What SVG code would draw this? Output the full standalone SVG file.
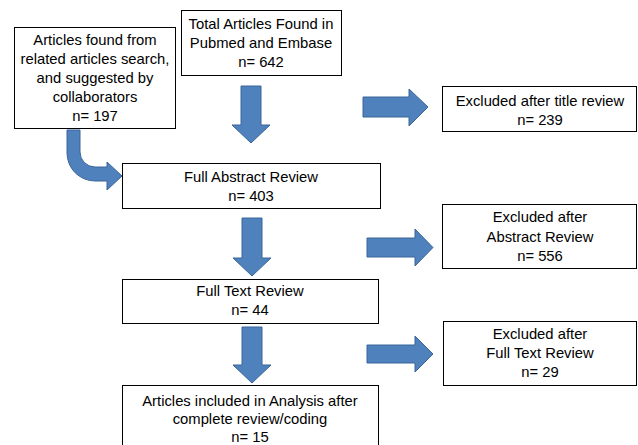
<svg xmlns="http://www.w3.org/2000/svg" width="638" height="445" viewBox="0 0 638 445">
<style>
.box{fill:#ffffff;stroke:#000000;stroke-width:1}
.arr{fill:#4F81BD;stroke:#3A6598;stroke-width:1}
text{font-family:"Liberation Sans",Arial,sans-serif;font-size:14.8px;fill:#000;text-anchor:middle}
</style>
<rect width="638" height="445" fill="#ffffff"/>
<g id="connectors">
<path class="arr" d="M67,130 L80,130 L80,152 A15,15 0 0 0 95,167 L107,167 L107,162 L122,176 L107,190 L107,181 L95,181 A28,28 0 0 1 67,153 Z"/>
<path class="arr" d="M241,86 L261,86 L261,125 L270,125 L251,143 L232,125 L241,125 Z"/>
<path class="arr" d="M242,218 L262,218 L262,258 L271,258 L252,276 L233,258 L242,258 Z"/>
<path class="arr" d="M242,327 L262,327 L262,365 L271,365 L252,383 L233,365 L242,365 Z"/>
<path class="arr" d="M363,97 L409,97 L409,89 L428,107 L409,126 L409,117 L363,117 Z"/>
<path class="arr" d="M367,238 L415,238 L415,229 L433,247.5 L415,266 L415,257 L367,257 Z"/>
<path class="arr" d="M367,345 L415,345 L415,336 L433,354 L415,372 L415,363 L367,363 Z"/>
</g>
<g id="node-related">
<rect class="box" x="14.5" y="27.5" width="161" height="101"/>
<text x="95" y="45">Articles found from</text>
<text x="95" y="64">related articles search,</text>
<text x="95" y="83">and suggested by</text>
<text x="95" y="102">collaborators</text>
<text x="95" y="121">n= 197</text>
</g>
<g id="node-total">
<rect class="box" x="181.5" y="10.5" width="160" height="65"/>
<text x="261" y="29">Total Articles Found in</text>
<text x="261" y="48">Pubmed and Embase</text>
<text x="261" y="67">n= 642</text>
</g>
<g id="node-excl-title">
<rect class="box" x="442.5" y="86.5" width="194" height="45"/>
<text x="540" y="106">Excluded after title review</text>
<text x="540" y="125">n= 239</text>
</g>
<g id="node-abstract">
<rect class="box" x="122.5" y="163.5" width="258" height="45"/>
<text x="251" y="182">Full Abstract Review</text>
<text x="251" y="201">n= 403</text>
</g>
<g id="node-excl-abstract">
<rect class="box" x="442.5" y="204.5" width="194" height="64"/>
<text x="540" y="222">Excluded after</text>
<text x="540" y="242">Abstract Review</text>
<text x="540" y="261">n= 556</text>
</g>
<g id="node-fulltext">
<rect class="box" x="122.5" y="279.5" width="256" height="44"/>
<text x="250" y="296">Full Text Review</text>
<text x="250" y="315">n= 44</text>
</g>
<g id="node-excl-fulltext">
<rect class="box" x="443.5" y="321.5" width="193" height="64"/>
<text x="540" y="339">Excluded after</text>
<text x="540" y="358">Full Text Review</text>
<text x="540" y="377">n= 29</text>
</g>
<g id="node-included">
<rect class="box" x="122.5" y="385.5" width="256" height="70"/>
<text x="250" y="406">Articles included in Analysis after</text>
<text x="250" y="424">complete review/coding</text>
<text x="250" y="442">n= 15</text>
</g>
</svg>
